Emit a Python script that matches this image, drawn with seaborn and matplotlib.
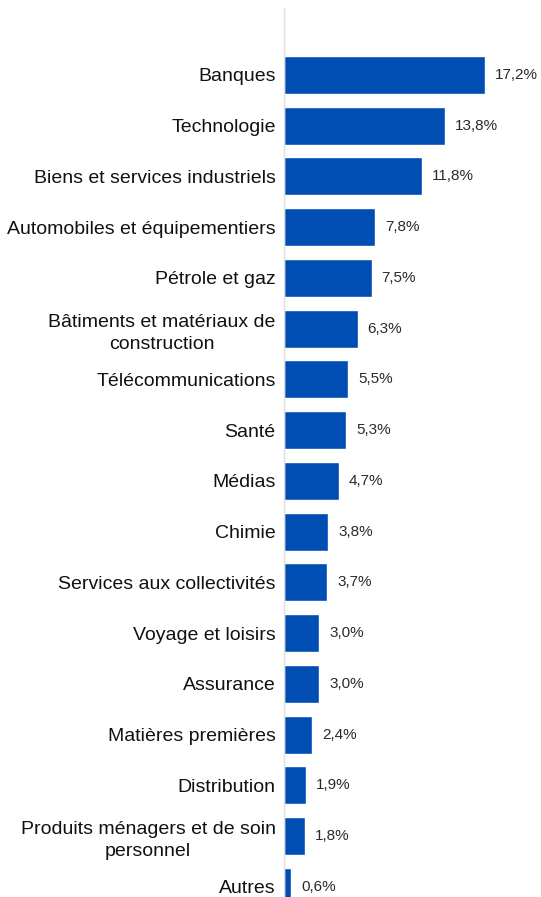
import matplotlib
matplotlib.use("Agg")
import matplotlib.pyplot as plt
import pandas as pd
import seaborn as sns

# sector weights (%)
sectors = [
    "Banques",
    "Technologie",
    "Biens et services industriels",
    "Automobiles et équipementiers",
    "Pétrole et gaz",
    "Bâtiments et matériaux de\nconstruction",
    "Télécommunications",
    "Santé",
    "Médias",
    "Chimie",
    "Services aux collectivités",
    "Voyage et loisirs",
    "Assurance",
    "Matières premières",
    "Distribution",
    "Produits ménagers et de soin\npersonnel",
    "Autres",
]
weights = [17.2, 13.8, 11.8, 7.8, 7.5, 6.3, 5.5, 5.3, 4.7, 3.8, 3.7, 3.0, 3.0, 2.4, 1.9, 1.8, 0.6]

df = pd.DataFrame({"sector": sectors, "weight": weights})

sns.set_style("white")
plt.rcParams["font.family"] = ["Liberation Sans", "DejaVu Sans"]

fig = plt.figure(figsize=(5.41, 8.97), dpi=100)
ax = fig.add_axes([284 / 541, 0.0, 1 - 284 / 541, 1 - 8 / 897])

sns.barplot(data=df, x="weight", y="sector", orient="h", color="#004DB4",
            saturation=1, width=0.75, ax=ax)

ax.set_xlim(0, 21.98)
ax.set_ylim(16.2, -1.32)

# value labels with comma decimals
for i, v in enumerate(weights):
    ax.annotate(f"{v:.1f}%".replace(".", ","), xy=(v, i), xytext=(10, 0),
                textcoords="offset pixels", va="center", ha="left",
                fontsize=11, color="#2a2a2a")

ax.set_xlabel("")
ax.set_ylabel("")
ax.set_xticks([])
ax.tick_params(axis="y", length=0, pad=6, labelsize=14, labelcolor="#111111")
for lab in ax.get_yticklabels():
    lab.set_multialignment("center")
    lab.set_linespacing(1.4)

for side in ["top", "right", "bottom"]:
    ax.spines[side].set_visible(False)
ax.spines["left"].set_color("#e0e0e0")
ax.spines["left"].set_linewidth(1)

fig.savefig("out.png", dpi=100)
